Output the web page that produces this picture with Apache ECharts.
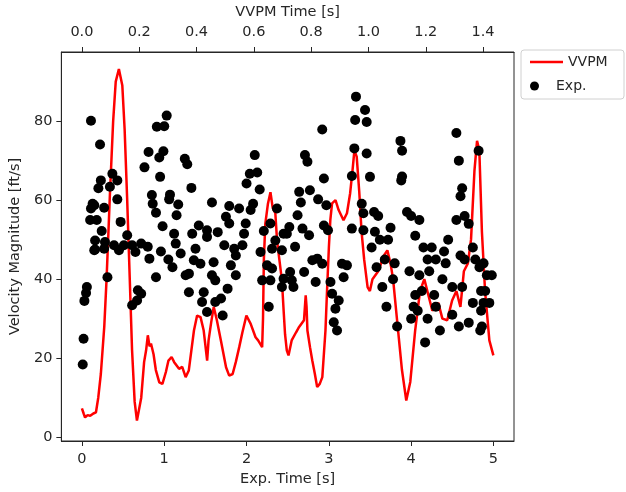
<!DOCTYPE html>
<html>
<head>
<meta charset="utf-8">
<script src="https://cdn.jsdelivr.net/npm/echarts@6/dist/echarts.min.js"></script>
<style>
  html, body { margin: 0; padding: 0; background: #fff; }
  #chart { width: 626px; height: 492px; }
</style>
</head>
<body>
<div id="chart"></div>
<script>
// VVPM simulation (top axis, seconds)
var vvpmTime = [0.000, 0.006, 0.011, 0.020, 0.029, 0.040, 0.049, 0.057, 0.066, 0.078, 0.086, 0.098, 0.109, 0.118, 0.129, 0.141, 0.149, 0.158, 0.167, 0.175, 0.184, 0.192, 0.198, 0.207, 0.217, 0.224, 0.230, 0.236, 0.241, 0.250, 0.258, 0.270, 0.281, 0.293, 0.302, 0.313, 0.322, 0.327, 0.339, 0.350, 0.362, 0.373, 0.382, 0.391, 0.402, 0.414, 0.425, 0.437, 0.442, 0.451, 0.460, 0.471, 0.485, 0.503, 0.514, 0.526, 0.537, 0.549, 0.560, 0.574, 0.589, 0.606, 0.615, 0.629, 0.632, 0.635, 0.640, 0.649, 0.658, 0.666, 0.675, 0.681, 0.689, 0.698, 0.704, 0.709, 0.715, 0.721, 0.732, 0.747, 0.758, 0.775, 0.781, 0.784, 0.787, 0.796, 0.804, 0.813, 0.821, 0.830, 0.839, 0.850, 0.856, 0.862, 0.867, 0.873, 0.885, 0.896, 0.913, 0.925, 0.936, 0.945, 0.951, 0.959, 0.968, 0.976, 0.985, 0.997, 1.005, 1.014, 1.034, 1.054, 1.066, 1.077, 1.086, 1.100, 1.117, 1.132, 1.146, 1.163, 1.180, 1.195, 1.209, 1.223, 1.244, 1.258, 1.275, 1.292, 1.307, 1.321, 1.333, 1.347, 1.358, 1.370, 1.379, 1.387, 1.396, 1.407, 1.422, 1.436];
var vvpmVel = [7.3, 6.0, 5.0, 5.6, 5.4, 6.0, 6.3, 10, 16, 28, 40, 62, 80, 90, 93.2, 89, 78, 60, 40, 22, 9, 4.2, 3.8, 10, 19, 22, 25.8, 23, 23.7, 21, 17, 13.9, 13.5, 16.5, 19.4, 20.3, 19, 18.6, 17.3, 17.8, 15.2, 16.9, 22, 27, 30.8, 30.4, 27, 19.4, 24.5, 29, 33, 29.6, 24.5, 17.7, 15.6, 16, 19, 22.8, 26.5, 30.8, 28.7, 25.3, 24.5, 22.8, 30, 45, 54, 59, 62, 58, 56.7, 49.8, 45, 39.7, 32, 26, 22, 20.7, 24.5, 26.5, 27.9, 29.6, 35.9, 33, 27, 22.8, 19.4, 16, 12.7, 13.5, 15.2, 27, 38, 48.2, 55, 59.2, 60, 57.5, 54.9, 56.7, 61.7, 68, 72.6, 71, 62, 52, 45, 38, 37, 40, 42, 46, 47.3, 44, 40, 29.6, 17, 9.3, 14, 27, 37, 40, 36, 32, 34, 30, 29.6, 34.6, 37, 33, 42, 44, 50, 67.5, 75, 72.6, 52, 37, 24.5, 20.7];

// experiment (bottom axis, seconds)
var expTime = [0.01, 0.02, 0.03, 0.05, 0.06, 0.11, 0.22, 0.23, 0.20, 0.15, 0.13, 0.11, 0.10, 0.18, 0.24, 0.16, 0.28, 0.16, 0.27, 0.31, 0.27, 0.37, 0.43, 0.34, 0.43, 0.47, 0.39, 0.45, 0.51, 0.55, 0.15, 0.61, 0.65, 0.72, 0.80, 0.82, 0.90, 0.68, 0.72, 0.61, 0.67,
  1.03, 0.91, 1.00, 0.81, 0.99, 0.94, 0.76, 1.25, 1.28, 0.95, 1.33, 0.85, 1.07, 0.86, 1.06, 1.17, 1.58, 0.90, 1.15, 0.98, 1.42, 1.52, 1.65, 1.12, 1.34, 1.14, 1.20, 1.38, 1.36, 1.44, 1.60, 1.52, 1.26, 1.30, 1.58, 1.62, 1.30, 1.48, 1.46, 1.52, 1.62, 0.96, 1.05, 1.10,
  3.33, 3.44, 3.32, 3.46, 2.92, 2.10, 2.71, 2.74, 3.31, 3.46, 2.04, 2.13, 2.00, 2.16, 2.94, 3.28, 3.50, 2.64, 2.77, 1.79, 1.91, 2.05, 2.08, 2.66, 2.87, 2.97, 3.40, 2.37, 1.75, 2.62, 3.42, 1.79, 1.99, 2.29, 1.97, 2.21, 2.45, 2.52, 2.68, 2.99, 3.28, 3.42, 2.76, 2.94, 2.49,
  1.73, 1.85, 1.95, 2.17, 2.35, 2.31, 2.43, 2.59, 2.80, 2.86, 2.92, 3.16, 3.22, 1.87, 1.81, 2.25, 2.31, 2.53, 2.70, 1.87, 2.19, 2.29, 2.45, 2.55, 2.84, 3.02, 3.18, 2.43, 2.57, 1.77, 3.04, 1.69, 3.12, 2.27, 1.71, 3.08, 3.06, 3.10,
  3.55, 3.60, 3.62, 3.68, 3.72, 3.78, 3.83, 3.87, 3.89, 3.89, 3.88, 3.95, 4.00, 4.05, 4.10, 4.15, 4.20, 4.22, 4.13, 4.08, 4.03, 4.17, 4.05, 4.28, 4.30, 4.35, 4.45, 4.42, 4.38, 4.50, 4.55, 4.58, 4.62, 4.60, 4.65, 4.70, 4.82, 4.75, 4.78, 4.83, 4.88, 4.85, 4.92, 4.90, 4.88, 4.85, 4.86, 4.84, 4.75, 4.70, 4.62, 4.65, 4.55, 4.60, 4.40, 4.25, 3.58, 3.65, 3.70, 3.75, 3.80, 3.98, 4.10, 4.00, 4.20, 4.50, 4.58, 4.95, 4.98, 3.52, 3.56, 4.30];
var expVel = [18.4, 24.9, 34.5, 36.5, 38.0, 80.1, 74.1, 65.0, 63.0, 58.7, 59.1, 57.9, 55.0, 55.0, 52.2, 49.8, 49.4, 47.5, 47.7, 40.5, 58.1, 66.7, 65.0, 63.4, 60.2, 54.5, 48.6, 47.3, 48.6, 51.1, 47.3, 48.6, 46.9, 49.0, 48.2, 45.2, 40.5, 37.2, 36.3, 33.4, 34.6,
  81.4, 78.6, 78.7, 72.2, 72.4, 70.8, 68.3, 70.5, 69.1, 65.9, 63.1, 61.3, 61.4, 59.1, 60.2, 58.9, 59.4, 56.8, 56.2, 53.4, 53.6, 52.4, 51.9, 51.5, 51.5, 49.0, 46.5, 47.7, 44.8, 43.9, 44.3, 50.7, 41.0, 41.4, 41.0, 39.7, 36.7, 36.7, 34.2, 31.7, 34.2, 47.0, 45.0, 43.0,
  86.2, 82.8, 80.3, 79.8, 77.9, 71.4, 71.4, 69.7, 73.1, 71.8, 66.7, 67.0, 64.2, 62.7, 65.5, 66.1, 65.9, 62.1, 62.5, 58.5, 57.9, 57.5, 59.1, 59.4, 60.2, 58.7, 59.1, 57.9, 55.8, 56.2, 56.7, 54.1, 54.1, 54.1, 51.5, 52.2, 51.5, 53.2, 52.8, 52.4, 52.8, 52.4, 51.1, 53.6, 51.5,
  48.6, 47.7, 48.6, 46.9, 49.8, 47.7, 47.3, 48.2, 44.8, 45.2, 43.9, 43.9, 43.5, 46.0, 43.5, 43.5, 42.7, 41.8, 41.8, 41.0, 39.7, 39.7, 40.1, 39.7, 39.3, 39.3, 40.5, 38.0, 38.0, 37.6, 36.3, 35.1, 34.6, 33.0, 30.8, 32.5, 29.1, 27.0,
  57, 56, 50, 45, 50, 40, 28, 75, 72.5, 66, 65, 57, 56, 51, 55, 48, 45, 42, 37, 32, 33, 24, 36, 36, 33, 27, 50, 44, 40, 38, 77, 70, 63, 61, 56, 54, 72.5, 48, 45, 43, 44, 37, 41, 37, 34, 32, 28, 27, 34, 29, 38, 45, 55, 46, 47, 48, 43, 38, 33, 53, 44, 42, 41, 30, 30, 31, 28, 34, 41, 48, 52, 45];

var expTicks = [0, 1, 2, 3, 4, 5];
var vvpmTicks = [0, 0.2, 0.4, 0.6, 0.8, 1.0, 1.2, 1.4];
var velTicks = [0, 20, 40, 60, 80];

var lineData = vvpmTime.map(function (t, i) { return [t, vvpmVel[i]]; });
var dotData = expTime.map(function (t, i) { return [t, expVel[i]]; });

var chart = echarts.init(document.getElementById('chart'));
var textColor = '#262626';
var fontFamily = 'DejaVu Sans';
var fontSize = 14.5;

function axisBase() {
    return {
        type: 'value',
        splitLine: { show: false },
        axisLine: { show: true, onZero: false, lineStyle: { color: '#262626', width: 1 } },
        axisTick: { show: true, length: 5, lineStyle: { color: '#262626' } },
        nameTextStyle: { color: textColor, fontSize: fontSize, fontFamily: fontFamily },
        axisLabel: { color: textColor, fontSize: fontSize, fontFamily: fontFamily, margin: 11 }
    };
}

var xBottom = axisBase();
xBottom.position = 'bottom';
xBottom.min = -0.25;
xBottom.max = 5.25;
xBottom.name = 'Exp. Time [s]';
xBottom.nameLocation = 'middle';
xBottom.nameGap = 26;
xBottom.axisTick.customValues = expTicks;
xBottom.axisLabel.customValues = expTicks;

var xTop = axisBase();
xTop.position = 'top';
xTop.min = -0.0718;
xTop.max = 1.508;
xTop.name = 'VVPM Time [s]';
xTop.nameLocation = 'middle';
xTop.nameGap = 27;
xTop.axisLabel.margin = 12;
xTop.axisTick.customValues = vvpmTicks;
xTop.axisLabel.customValues = vvpmTicks;
xTop.axisLabel.formatter = function (v) { return v.toFixed(1); };

var yLeft = axisBase();
yLeft.min = -0.96;
yLeft.max = 97.5;
yLeft.name = 'Velocity Magnitude [ft/s]';
yLeft.nameLocation = 'middle';
yLeft.nameGap = 33;
yLeft.axisLabel.margin = 9;
yLeft.axisTick.customValues = velTicks;
yLeft.axisLabel.customValues = velTicks;

var legendText = { color: textColor, fontSize: 14, fontFamily: fontFamily };

var option = {
    animation: false,
    backgroundColor: '#fff',
    grid: {
        left: 61, top: 52, right: 112, bottom: 51,
        show: true, borderColor: '#262626', borderWidth: 1
    },
    // legend frame
    graphic: [{
        type: 'rect',
        z: 0,
        shape: { x: 521, y: 50, width: 103, height: 49, r: 3 },
        style: { fill: '#fff', stroke: '#d0d0d0', lineWidth: 1 }
    }],
    legend: [
        {
            left: 530, top: 55, padding: 0,
            itemWidth: 33, itemHeight: 2.5, itemTextGap: 9,
            icon: 'rect',
            textStyle: legendText,
            data: ['VVPM']
        },
        {
            left: 530, top: 79, padding: 0,
            itemWidth: 33, itemHeight: 9, itemTextGap: 9,
            icon: 'circle',
            textStyle: legendText,
            data: ['Exp.']
        }
    ],
    xAxis: [xBottom, xTop],
    yAxis: [yLeft],
    series: [
        {
            name: 'VVPM',
            type: 'line',
            xAxisIndex: 1,
            yAxisIndex: 0,
            data: lineData,
            symbol: 'none',
            lineStyle: { color: '#ff0000', width: 2.5 },
            itemStyle: { color: '#ff0000' },
            z: 2
        },
        {
            name: 'Exp.',
            type: 'scatter',
            xAxisIndex: 0,
            yAxisIndex: 0,
            data: dotData,
            symbol: 'circle',
            symbolSize: 10,
            itemStyle: { color: '#000', opacity: 1 },
            z: 3
        }
    ]
};

chart.setOption(option);
window.addEventListener('resize', chart.resize);
</script>
</body>
</html>
